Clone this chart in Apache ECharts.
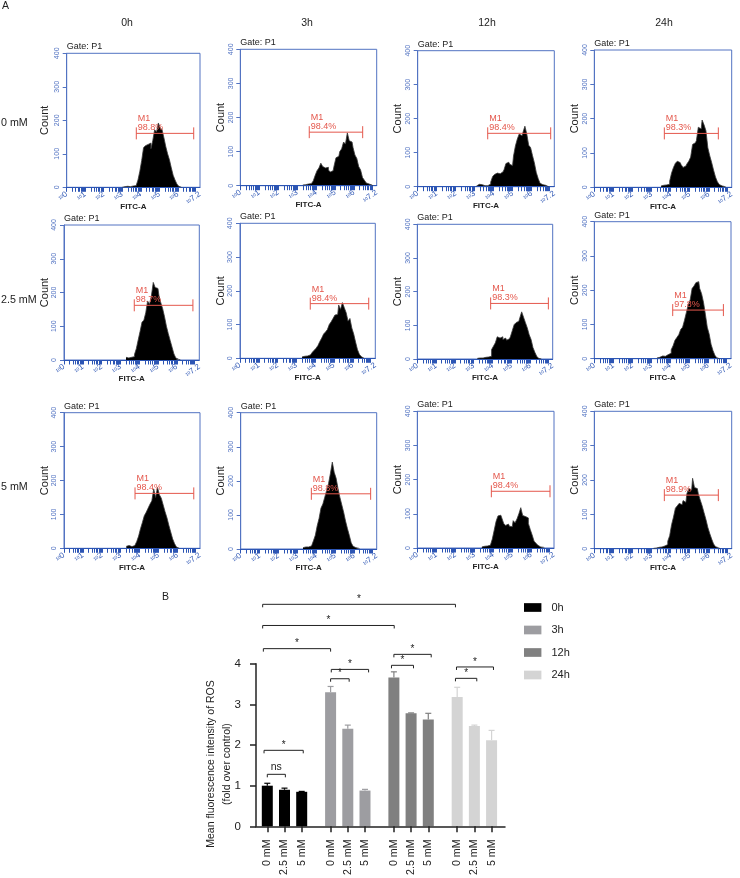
<!DOCTYPE html>
<html>
<head>
<meta charset="utf-8">
<title>ROS</title>
<script src="https://cdn.jsdelivr.net/npm/echarts@6/dist/echarts.min.js"></script>
<style>
html, body { margin: 0; padding: 0; background: #fff; overflow: hidden; }
#content { width: 740px; height: 878px; }
</style>
</head>
<body>
<div id="content"></div>
<script>
var timeLabels = ['0h', '3h', '12h', '24h'];
var rowLabels = ['0 mM', '2.5 mM', '5 mM'];

// histogram counts, one bin every 0.1 decade
var counts_0mM_0h = [0, 2, 2, 3, 2, 3, 4, 5, 8, 22, 48, 80, 118, 124, 128, 132, 115, 140, 172, 165, 192, 178, 172, 148, 122, 100, 82, 58, 36, 22, 10, 3, 0];
var counts_0mM_3h = [2, 3, 4, 5, 6, 10, 14, 30, 44, 52, 66, 56, 52, 54, 46, 40, 44, 58, 82, 86, 100, 108, 128, 122, 155, 132, 128, 112, 90, 80, 56, 46, 24, 16, 8, 5, 2, 0];
var counts_0mM_12h = [2, 7, 8, 6, 3, 3, 3, 8, 14, 30, 36, 40, 38, 42, 44, 50, 68, 72, 66, 62, 90, 120, 140, 155, 150, 160, 178, 155, 122, 115, 92, 70, 42, 24, 10, 6, 4, 2, 0];
var counts_0mM_24h = [4, 6, 5, 7, 9, 18, 42, 58, 70, 76, 72, 66, 58, 62, 68, 76, 88, 125, 130, 136, 175, 170, 196, 182, 165, 115, 92, 72, 50, 30, 16, 8, 4, 2, 0];
var counts_25mM_0h = [8, 6, 6, 8, 10, 16, 34, 60, 85, 112, 118, 140, 175, 165, 190, 230, 215, 212, 192, 170, 152, 128, 100, 78, 58, 38, 18, 6, 2, 0];
var counts_25mM_3h = [4, 6, 8, 7, 10, 14, 18, 24, 30, 38, 50, 60, 72, 78, 85, 100, 108, 118, 128, 130, 158, 145, 165, 150, 135, 110, 118, 90, 72, 48, 26, 12, 5, 0];
var counts_25mM_12h = [2, 3, 4, 3, 5, 4, 6, 8, 28, 38, 48, 66, 62, 66, 58, 62, 56, 60, 66, 84, 102, 108, 112, 122, 140, 124, 108, 92, 72, 58, 34, 20, 8, 2, 0];
var counts_25mM_24h = [2, 4, 5, 8, 7, 10, 12, 16, 26, 38, 54, 62, 70, 85, 92, 112, 135, 158, 172, 205, 212, 222, 225, 205, 190, 165, 130, 92, 72, 42, 24, 10, 3, 0];
var counts_5mM_0h = [6, 8, 3, 5, 8, 12, 20, 36, 58, 76, 96, 106, 118, 130, 140, 175, 150, 180, 158, 148, 128, 108, 90, 68, 48, 28, 14, 4, 0];
var counts_5mM_3h = [4, 6, 8, 6, 9, 14, 24, 40, 68, 90, 120, 132, 152, 172, 192, 222, 255, 225, 208, 178, 152, 130, 108, 82, 60, 40, 18, 8, 4, 2, 0];
var counts_5mM_12h = [3, 5, 6, 6, 8, 12, 26, 52, 78, 94, 96, 88, 72, 66, 70, 64, 62, 80, 74, 85, 100, 118, 95, 92, 88, 72, 54, 38, 20, 14, 8, 3, 2, 0];
var counts_5mM_24h = [1, 2, 3, 4, 5, 6, 8, 12, 22, 38, 70, 92, 118, 125, 132, 128, 140, 135, 160, 175, 170, 205, 178, 175, 160, 142, 125, 105, 85, 62, 44, 28, 14, 6, 3, 0];

var panelCounts = [
    counts_0mM_0h, counts_0mM_3h, counts_0mM_12h, counts_0mM_24h,
    counts_25mM_0h, counts_25mM_3h, counts_25mM_12h, counts_25mM_24h,
    counts_5mM_0h, counts_5mM_3h, counts_5mM_12h, counts_5mM_24h
];
// decade of the first bin in each panel
var firstBin = [3.0, 3.3, 3.1, 3.5, 3.3, 3.3, 3.2, 3.3, 3.3, 3.3, 3.4, 3.1];

// M1 gate of each panel
var gateStart = [3.76, 3.64, 3.69, 3.67, 3.74, 3.74, 3.9, 4.13, 3.76, 3.74, 3.9, 3.67];
var gateEnd = [6.86, 6.46, 7.01, 6.5, 6.86, 6.85, 6.97, 6.8, 6.87, 6.88, 6.99, 6.5];
var gateLevel = [161, 157, 157, 157, 162, 162, 165, 142, 162, 162, 166, 156];
var gatePercent = ['98.8%', '98.4%', '98.4%', '98.3%', '98.7%', '98.4%', '98.3%', '97.8%', '98.4%', '98.8%', '98.4%', '98.9%'];

var histXLabels = [0, 1, 2, 3, 4, 5, 6, 7.2];

// bar chart
var doseLabels = ['0 mM', '2.5 mM', '5 mM'];
var ros0h = [1.0, 0.9, 0.85];
var ros3h = [3.3, 2.4, 0.88];
var ros12h = [3.66, 2.78, 2.63];
var ros24h = [3.18, 2.47, 2.12];
var rosTop0h = [1.06, 0.94, 0.86];
var rosTop3h = [3.44, 2.49, 0.91];
var rosTop12h = [3.8, 2.79, 2.78];
var rosTop24h = [3.42, 2.49, 2.36];

// significance brackets: from slot, to slot, level
var bracketFrom = [-0.27, -0.27, -0.23, -0.19, 0, 3.68, 3.72, 7.22, 7.36, 10.94, 11];
var bracketTo = [10.94, 7.38, 3.68, 2.09, 1.05, 4.76, 5.89, 8.5, 9.53, 12.18, 13.15];
var bracketLevel = [5.46, 4.94, 4.37, 1.87, 1.28, 3.63, 3.86, 3.96, 4.23, 3.64, 3.92];
var bracketText = ['*', '*', '*', '*', 'ns', '*', '*', '*', '*', '*', '*'];

// layout of the histogram panels: left, top, right, bottom
var panelBox = [
    [66.7, 53.3, 200, 187.3], [240.3, 49.3, 376.7, 185.7], [417.7, 50.7, 554.3, 186.7], [594.3, 50, 731.7, 187.3],
    [64, 225, 199.3, 360], [240, 223.3, 375.3, 358.3], [417.3, 224.3, 552.7, 359], [594.3, 221.7, 731, 358.7],
    [64, 412.7, 200, 548.3], [240.7, 412.7, 376.7, 549], [417.3, 411.3, 554, 548], [594.3, 411.3, 731.7, 548.7]
];

var FONT = '"Liberation Sans", Arial, sans-serif';
var BLUE = '#5273c2';
var TICK_BLUE = '#2c55b4';
var RED = '#e4574c';

// log-spaced minor ticks of the FITC axis
var minorTicks = [];
for (var d = 0; d < 7; d++) {
    [0, 0.3, 0.48, 0.6, 0.7, 0.78, 0.85, 0.9, 0.95].forEach(function (f) { minorTicks.push(d + f); });
}

var grids = [], xAxes = [], yAxes = [], series = [], texts = [];

function textEl(str, x, y, size, align) {
    return {
        type: 'text', x: x, y: y,
        style: { text: str, font: size + 'px ' + FONT, fill: '#222', align: align || 'left', verticalAlign: 'middle' }
    };
}

function gateItem(params, api) {
    var p1 = api.coord([api.value(0), api.value(2)]);
    var p2 = api.coord([api.value(1), api.value(2)]);
    var line = { stroke: RED, lineWidth: 1 };
    return {
        type: 'group',
        children: [
            { type: 'line', shape: { x1: p1[0], y1: p1[1], x2: p2[0], y2: p2[1] }, style: line },
            { type: 'line', shape: { x1: p1[0], y1: p1[1] - 6, x2: p1[0], y2: p1[1] + 6 }, style: line },
            { type: 'line', shape: { x1: p2[0], y1: p2[1] - 6, x2: p2[0], y2: p2[1] + 6 }, style: line },
            {
                type: 'text', x: p1[0] + 1.5, y: p1[1] - 19,
                style: { text: 'M1\n' + gatePercent[api.value(3)], font: '9px ' + FONT, fill: RED, lineHeight: 9, verticalAlign: 'top' }
            }
        ]
    };
}

panelCounts.forEach(function (counts, i) {
    var box = panelBox[i];
    grids.push({ left: box[0], top: box[1], width: box[2] - box[0], height: box[3] - box[1], show: true, borderColor: BLUE, borderWidth: 1 });
    xAxes.push({
        gridIndex: i, type: 'value', min: 0, max: 7.2, z: 3,
        splitLine: { show: false },
        axisLine: { lineStyle: { color: TICK_BLUE, width: 1 } },
        axisTick: { customValues: minorTicks, length: 4.5, lineStyle: { color: TICK_BLUE, width: 1 } },
        axisLabel: {
            customValues: histXLabels, rotate: 35, margin: 6, color: TICK_BLUE,
            formatter: function (v) { return '{a|10}{b|' + v + '}'; },
            rich: { a: { fontSize: 4.5, color: TICK_BLUE, fontFamily: FONT }, b: { fontSize: 8, color: TICK_BLUE, fontFamily: FONT } }
        },
        name: 'FITC-A', nameLocation: 'middle', nameGap: 15, nameMoveOverlap: false,
        nameTextStyle: { fontFamily: FONT, fontSize: 8, color: '#222', fontWeight: 'bold' }
    });
    yAxes.push({
        gridIndex: i, type: 'value', min: 0, max: 400, interval: 100,
        splitLine: { show: false },
        axisLine: { lineStyle: { color: BLUE, width: 1 } },
        axisTick: { length: 4, lineStyle: { color: BLUE, width: 1 } },
        axisLabel: { rotate: 90, margin: 6, fontSize: 7, fontFamily: FONT, color: BLUE },
        name: 'Count', nameLocation: 'middle', nameGap: i === 0 ? 16 : 14, nameMoveOverlap: false,
        nameTextStyle: { fontFamily: FONT, fontSize: 11, color: '#222' }
    });
    series.push({
        type: 'line', xAxisIndex: i, yAxisIndex: i, step: 'middle', symbol: 'none', silent: true, animation: false,
        lineStyle: { color: '#3a3a3a', width: 0.8 },
        areaStyle: { color: '#000', opacity: 1 },
        data: counts.map(function (c, k) { return [firstBin[i] + k * 0.1, c]; })
    });
    series.push({
        type: 'custom', xAxisIndex: i, yAxisIndex: i, clip: false, silent: true, animation: false, z: 6,
        renderItem: gateItem,
        encode: { x: [0, 1], y: 2 },
        data: [[gateStart[i], gateEnd[i], gateLevel[i], i]]
    });
    texts.push(textEl('Gate: P1', box[0], box[1] - 6.5, 9));
});

// bar chart panel
var B = panelBox.length;
var groupStep = 3.68;
var barSlots = [];
[0, 1, 2, 3].forEach(function (g) {
    [0, 1, 2].forEach(function (k) { barSlots.push(g * groupStep + k); });
});

grids.push({ left: 256, top: 663.7, width: 249, height: 165 });
xAxes.push({
    gridIndex: B, type: 'value', min: -0.657, max: 13.82, z: 3,
    splitLine: { show: false },
    axisLine: { onZero: false, lineStyle: { color: '#222', width: 1.5 } },
    axisTick: { customValues: barSlots, length: 6, lineStyle: { color: '#222', width: 1.5 } },
    axisLabel: {
        customValues: barSlots, rotate: 90, margin: 13, fontSize: 10.7, fontFamily: FONT, color: '#222',
        formatter: function (v) { return doseLabels[barSlots.indexOf(v) % 3]; }
    }
});
yAxes.push({
    gridIndex: B, type: 'value', min: 0, max: 4, interval: 1,
    splitLine: { show: false },
    axisLine: { show: true, onZero: false, lineStyle: { color: '#222', width: 1.5 } },
    axisTick: { show: true, length: 6, lineStyle: { color: '#222', width: 1.5 } },
    axisLabel: { margin: 15, fontSize: 11.5, fontFamily: FONT, color: '#222' },
    name: 'Mean fluorescence intensity of ROS\n(fold over control)', nameLocation: 'middle', nameGap: 20.5, nameMoveOverlap: false,
    nameTextStyle: { fontFamily: FONT, fontSize: 10.5, lineHeight: 16, color: '#222', padding: [0, 38, 0, 0] }
});

var rosValues = [ros0h, ros3h, ros12h, ros24h];
var rosTops = [rosTop0h, rosTop3h, rosTop12h, rosTop24h];
var rosColors = ['#000000', '#9d9da1', '#808080', '#d4d4d4'];

function errorItem(params, api) {
    var base = api.coord([api.value(0), api.value(1)]);
    var top = api.coord([api.value(0), api.value(2)]);
    var st = { stroke: api.visual('color'), lineWidth: 1.2 };
    return {
        type: 'group',
        children: [
            { type: 'line', shape: { x1: base[0], y1: base[1], x2: top[0], y2: top[1] }, style: st },
            { type: 'line', shape: { x1: top[0] - 3, y1: top[1], x2: top[0] + 3, y2: top[1] }, style: st }
        ]
    };
}

timeLabels.forEach(function (name, g) {
    series.push({
        name: name, type: 'bar', xAxisIndex: B, yAxisIndex: B, barWidth: 11, barGap: '-100%', animation: false,
        itemStyle: { color: rosColors[g] },
        data: rosValues[g].map(function (v, k) { return [g * groupStep + k, v]; })
    });
    series.push({
        type: 'custom', xAxisIndex: B, yAxisIndex: B, animation: false, silent: true,
        itemStyle: { color: rosColors[g] },
        renderItem: errorItem,
        encode: { x: 0, y: [1, 2] },
        data: rosValues[g].map(function (v, k) { return [g * groupStep + k, v, rosTops[g][k]]; })
    });
});

function bracketItem(params, api) {
    var p1 = api.coord([api.value(0), api.value(2)]);
    var p2 = api.coord([api.value(1), api.value(2)]);
    var st = { stroke: '#222', lineWidth: 1, fill: 'none' };
    var label = bracketText[params.dataIndex];
    return {
        type: 'group',
        children: [
            { type: 'polyline', shape: { points: [[p1[0], p1[1] + 3], p1, p2, [p2[0], p2[1] + 3]] }, style: st },
            {
                type: 'text', x: (p1[0] + p2[0]) / 2, y: p1[1] - (label === 'ns' ? 2 : 0),
                style: { text: label, font: (label === 'ns' ? 10.5 : 10) + 'px ' + FONT, fill: '#222', align: 'center', verticalAlign: 'bottom' }
            }
        ]
    };
}

series.push({
    type: 'custom', xAxisIndex: B, yAxisIndex: B, clip: false, silent: true, animation: false,
    renderItem: bracketItem,
    encode: { x: [0, 1], y: 2 },
    data: bracketFrom.map(function (f, k) { return [f, bracketTo[k], bracketLevel[k]]; })
});

// captions around the panels
texts.push(textEl('A', 2, 6, 10.5));
texts.push(textEl('B', 162, 597, 10.5));
[127, 307, 487, 664].forEach(function (x, k) { texts.push(textEl(timeLabels[k], x, 23, 10.5, 'center')); });
[123, 300, 487].forEach(function (y, k) { texts.push(textEl(rowLabels[k], 1, y, 10.7)); });

var myChart = echarts.init(document.getElementById('content'), null, { renderer: 'canvas' });
myChart.setOption({
    animation: false,
    backgroundColor: '#fff',
    grid: grids,
    xAxis: xAxes,
    yAxis: yAxes,
    legend: {
        orient: 'vertical', left: 524, top: 602, padding: 0, itemWidth: 17.4, itemHeight: 8.7, itemGap: 11.5, icon: 'rect',
        data: timeLabels, selectedMode: false,
        textStyle: { fontFamily: FONT, fontSize: 11, color: '#222', padding: [0, 0, 0, 5] }
    },
    graphic: { elements: texts },
    series: series
});
</script>
</body>
</html>
